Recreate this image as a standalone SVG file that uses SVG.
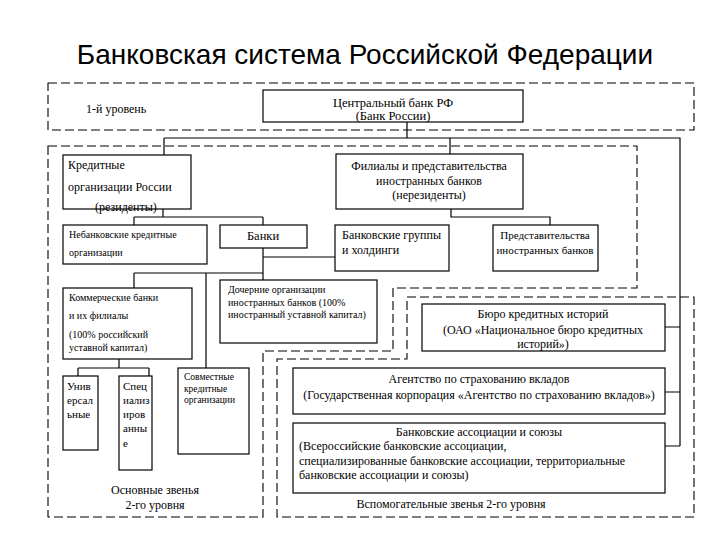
<svg xmlns="http://www.w3.org/2000/svg" width="720" height="540" viewBox="0 0 720 540" font-family="'Liberation Serif', 'Times New Roman', serif">
<style>
.box{fill:#fff;stroke:#000;stroke-width:1.2}
.dash{fill:none;stroke:#000;stroke-width:1.1;stroke-dasharray:9 4}
.ln{fill:none;stroke:#000;stroke-width:1.2}
.t12{font-size:12px}
.t11{font-size:11px}
.t10{font-size:10px}
.t9{font-size:9.5px}
.c{text-anchor:middle}
</style>
<rect width="720" height="540" fill="#fff"/>
<text font-family="'Liberation Sans', Arial, sans-serif" font-size="28" text-anchor="middle" x="365" y="64">Банковская система Российской Федерации</text>

<g id="regions">
<rect class="dash" x="48" y="83" width="646" height="47"/>
<path class="dash" d="M48,146 H637 V288 H393 V351 H263 V517 H48 Z"/>
<path class="dash" d="M407,297 H694 V517 H277 V359 H407 Z"/>
<text class="t12" x="86" y="113">1-й уровень</text>
<text class="t12 c" x="155" y="494">Основные звенья</text>
<text class="t12 c" x="155" y="509">2-го уровня</text>
<text class="t12 c" x="451" y="508">Вспомогательные звенья 2-го уровня</text>
</g>

<g id="connectors">
<path class="ln" d="M407,122 V138 M164,138 H680 V446 M164,138 V155 M450,138 V154"/>
<path class="ln" d="M451,209 V217 H550 V225"/>
<path class="ln" d="M163,209 V217 M134,217 H263 M134,217 V225 M263,217 V225"/>
<path class="ln" d="M263,248 V280 M263,257 H335"/>
<path class="ln" d="M134,273 H263 M134,273 V288 M206,273 V368"/>
<path class="ln" d="M119,359 V368 M78,368 H149 M78,368 V376 M149,368 V376"/>
<path class="ln" d="M665,327 H680 M665,392 H680 M665,446 H680"/>
</g>

<g id="cb">
<rect class="box" x="263" y="90" width="260" height="32"/>
<text class="c" font-size="12.5" x="393" y="107">Центральный банк РФ</text>
<text class="c" font-size="12.5" x="393" y="120">(Банк России)</text>
</g>

<g id="kredit">
<rect class="box" x="63" y="155" width="128" height="54"/>
<text class="t12" x="68" y="169">Кредитные</text>
<text class="t12" x="68" y="191">организации России</text>
<text class="t12" x="95" y="211">(резиденты)</text>
</g>

<g id="filialy">
<rect class="box" x="336" y="154" width="187" height="55"/>
<text class="t12 c" x="429" y="170">Филиалы и представительства</text>
<text class="t12 c" x="429" y="185">иностранных банков</text>
<text class="t12 c" x="429" y="199">(нерезиденты)</text>
</g>

<g id="nebank">
<rect class="box" x="63" y="225" width="144" height="39"/>
<text class="t10" x="69" y="238">Небанковские кредитные</text>
<text class="t10" x="69" y="256">организации</text>
</g>

<g id="banki">
<rect class="box" x="220" y="225" width="87" height="23"/>
<text class="c" font-size="12.5" x="263" y="240">Банки</text>
</g>

<g id="gruppy">
<rect class="box" x="335" y="225" width="114" height="46"/>
<text class="t12" x="342" y="239">Банковские группы</text>
<text class="t12" x="342" y="254">и холдинги</text>
</g>

<g id="predst">
<rect class="box" x="493" y="225" width="105" height="46"/>
<text class="t11 c" x="545" y="239">Представительства</text>
<text class="t11 c" x="545" y="254">иностранных банков</text>
</g>

<g id="kommerch">
<rect class="box" x="63" y="288" width="129" height="71"/>
<text class="t10" x="69" y="301">Коммерческие банки</text>
<text class="t10" x="69" y="319">и их филиалы</text>
<text class="t10" x="69" y="338">(100% российский</text>
<text class="t10" x="69" y="351">уставной капитал)</text>
</g>

<g id="dochernie">
<rect class="box" x="220" y="280" width="157" height="63"/>
<text class="t10" x="228" y="293">Дочерние организации</text>
<text class="t10" x="228" y="306">иностранных банков (100%</text>
<text class="t10" x="228" y="318">иностранный уставной капитал)</text>
</g>

<g id="buro">
<rect class="box" x="422" y="304" width="243" height="47"/>
<text class="t12 c" x="543" y="318">Бюро кредитных историй</text>
<text class="t12 c" x="543" y="334">(ОАО «Национальное бюро кредитных</text>
<text class="t12 c" x="543" y="348">историй»)</text>
</g>

<g id="univ">
<rect class="box" x="63" y="376" width="35" height="74"/>
<text class="t11" x="67" y="390">Унив</text>
<text class="t11" x="67" y="404">ерсал</text>
<text class="t11" x="67" y="418">ьные</text>
</g>

<g id="spec">
<rect class="box" x="119" y="376" width="33" height="94"/>
<text class="t11" x="123" y="390">Спец</text>
<text class="t11" x="123" y="404">иализ</text>
<text class="t11" x="123" y="418">иров</text>
<text class="t11" x="123" y="432">анны</text>
<text class="t11" x="123" y="447">е</text>
</g>

<g id="sovm">
<rect class="box" x="178" y="368" width="71" height="86"/>
<text class="t9" x="184" y="380">Совместные</text>
<text class="t9" x="184" y="392">кредитные</text>
<text class="t9" x="184" y="403">организации</text>
</g>

<g id="agentstvo">
<rect class="box" x="293" y="368" width="372" height="46"/>
<text class="t12 c" x="479" y="383">Агентство по страхованию вкладов</text>
<text class="t12 c" x="479" y="399">(Государственная корпорация «Агентство по страхованию вкладов»)</text>
</g>

<g id="assoc">
<rect class="box" x="293" y="423" width="372" height="70"/>
<text class="t12 c" x="479" y="436">Банковские ассоциации и союзы</text>
<text class="t12" x="299" y="450">(Всероссийские банковские ассоциации,</text>
<text class="t12" x="299" y="465">специализированные банковские ассоциации, территориальные</text>
<text class="t12" x="299" y="479">банковские ассоциации и союзы)</text>
</g>
</svg>
